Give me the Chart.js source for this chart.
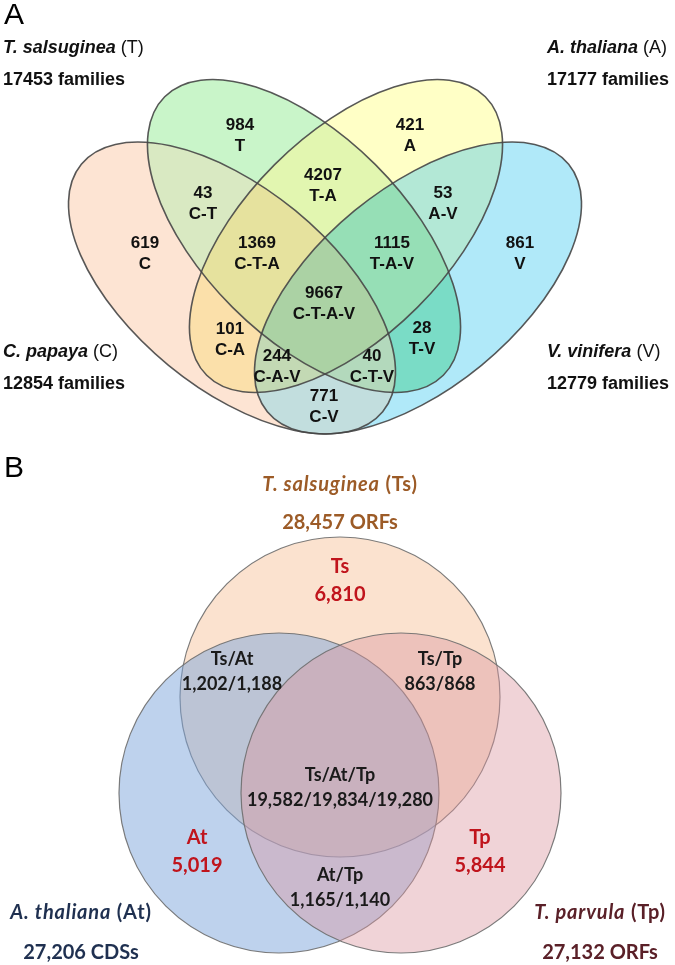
<!DOCTYPE html>
<html><head><meta charset="utf-8">
<script src="https://cdn.jsdelivr.net/npm/chart.js@4.4.1/dist/chart.umd.min.js"></script>
<style>html,body{margin:0;padding:0;background:#fff;}#wrap{width:675px;height:965px;}</style>
</head><body><div id="wrap"><canvas id="c" width="675" height="965"></canvas></div>
<script>
// ---------- DATA: panel A (gene families, 4-set Venn) ----------
const setNamesA = ['T. salsuginea', 'A. thaliana', 'C. papaya', 'V. vinifera'];
const setCodesA = ['T', 'A', 'C', 'V'];
const familiesA = [17453, 17177, 12854, 12779];
const regionCodesA = ['T', 'A', 'C-T', 'C', 'T-A', 'A-V', 'C-T-A', 'T-A-V', 'V', 'C-T-A-V', 'C-A', 'T-V', 'C-A-V', 'C-T-V', 'C-V'];
const regionCountsA = [984, 421, 43, 619, 4207, 53, 1369, 1115, 861, 9667, 101, 28, 244, 40, 771];

// ---------- DATA: panel B (ORFs, 3-set Venn) ----------
const setNamesB = ['T. salsuginea', 'A. thaliana', 'T. parvula'];
const setCodesB = ['Ts', 'At', 'Tp'];
const totalsB = [28457, 27206, 27132];
const unitsB = ['ORFs', 'CDSs', 'ORFs'];
const regionCodesB = ['Ts', 'At', 'Tp', 'Ts/At', 'Ts/Tp', 'At/Tp', 'Ts/At/Tp'];
const regionCountsB = [[6810], [5019], [5844], [1202, 1188], [863, 868], [1165, 1140], [19582, 19834, 19280]];

// ---------- LAYOUT & STYLE (data units of the chart's x/y scales) ----------
const ellipseLayoutA = {
  C: {cx: 232, cy: 288, a: 195, b: 100, rot: 39.4},
  T: {cx: 304, cy: 236, a: 197, b: 101, rot: 45},
  A: {cx: 346, cy: 236, a: 197, b: 101, rot: -45},
  V: {cx: 418, cy: 288, a: 195, b: 100, rot: -39.4}
};
const regionFillA = {
  'T': '#c9f5c9', 'A': '#ffffc6', 'C': '#fde4d3', 'V': '#b0e9f9',
  'C-T': '#d9e9c2', 'T-A': '#e2f6b0', 'A-V': '#b3e8d6', 'C-A': '#fbe0aa', 'T-V': '#7adcc6', 'C-V': '#c2dede',
  'C-T-A': '#e6e29e', 'T-A-V': '#96dfb6', 'C-A-V': '#c3d9b4', 'C-T-V': '#b3d9bc', 'C-T-A-V': '#abd2a4'
};
const regionPosA = [[240,124],[410,124],[203,192],[145,242],[323,174],[443,192],[257,242],[392,242],[520,242],[324,292],[230,328],[422,327],[277,355],[372,355],[324,395]];
const setLabelPosA = [[3,48,'left'],[547,48,'left'],[3,352,'left'],[547,352,'left']];

const circleLayoutB = [ {x: 340, y: 697, r: 160}, {x: 279, y: 793, r: 160}, {x: 401, y: 793, r: 160} ];
const circleFillB = ['rgba(245,185,140,0.42)', 'rgba(125,165,220,0.5)', 'rgba(220,150,160,0.42)'];
const regionPosB = [[340,567],[197,838],[480,838],[232,659],[440,659],[340,875],[340,775]];
const regionColorB = ['#c0141c','#c0141c','#c0141c','#1a1a1a','#1a1a1a','#1a1a1a','#1a1a1a'];
const setLabelPosB = [[340,485,523],[81,913,953],[600,913,953]];
const setColorB = ['#9c5b27', '#1f3050', '#5a2028'];

const fmt = n => n.toLocaleString('en-US');
const FA = '"Liberation Sans", Arial, sans-serif';
const FB = 'Lato, "Open Sans", sans-serif';

function drawRich(ctx, x, y, segs, align, spacing) {
  ctx.letterSpacing = (spacing || 0) + 'px';
  let total = 0;
  segs.forEach(s => { ctx.font = s.font; s.w = ctx.measureText(s.text).width; total += s.w; });
  let sx = align === 'center' ? x - total / 2 : (align === 'right' ? x - total : x);
  ctx.textAlign = 'left'; ctx.textBaseline = 'middle';
  segs.forEach(s => { ctx.font = s.font; ctx.fillStyle = s.color; ctx.fillText(s.text, sx, y); sx += s.w; });
  ctx.letterSpacing = '0px';
}

const vennPlugin = {
  id: 'venn',
  afterDatasetsDraw(chart) {
    const ctx = chart.ctx, xs = chart.scales.x, ys = chart.scales.y;
    const px = v => xs.getPixelForValue(v), py = v => ys.getPixelForValue(v);
    const len = v => xs.getPixelForValue(v) - xs.getPixelForValue(0);
    const W = chart.width, H = chart.height;
    const ellPath = (k, withRect) => {
      const e = ellipseLayoutA[k];
      const cx = px(e.cx), cy = py(e.cy), a = len(e.a), b = len(e.b), r = e.rot * Math.PI / 180;
      const p = new Path2D();
      if (withRect) p.rect(0, 0, W, H);
      p.moveTo(cx + a * Math.cos(r), cy + a * Math.sin(r));
      p.ellipse(cx, cy, a, b, r, 0, Math.PI * 2);
      p.closePath();
      return p;
    };
    ctx.save();
    // Panel A: fill each region (intersection of included sets, excluding the rest)
    regionCodesA.forEach(code => {
      const inc = code.split('-');
      ctx.save();
      inc.forEach(k => ctx.clip(ellPath(k, false)));
      setCodesA.filter(k => !inc.includes(k)).forEach(k => ctx.clip(ellPath(k, true), 'evenodd'));
      ctx.fillStyle = regionFillA[code];
      ctx.fillRect(0, 0, W, H);
      ctx.restore();
    });
    ['C', 'T', 'A', 'V'].forEach(k => {
      ctx.strokeStyle = 'rgba(70,70,70,0.9)'; ctx.lineWidth = 1.6; ctx.stroke(ellPath(k, false));
    });
    ctx.fillStyle = '#000'; ctx.font = '30px ' + FA; ctx.textAlign = 'left'; ctx.textBaseline = 'middle';
    ctx.fillText('A', px(4), py(16));
    ctx.fillText('B', px(4), py(469));
    setNamesA.forEach((n, i) => {
      const [x, y, al] = setLabelPosA[i];
      drawRich(ctx, px(x), py(y), [
        {text: n, font: 'italic bold 18px ' + FA, color: '#111'},
        {text: ' (' + setCodesA[i] + ')', font: '18px ' + FA, color: '#111'}], al);
      drawRich(ctx, px(x), py(y + 32), [{text: familiesA[i] + ' families', font: 'bold 18px ' + FA, color: '#111'}], al);
    });
    regionCodesA.forEach((c, i) => {
      const [x, y] = regionPosA[i];
      drawRich(ctx, px(x), py(y + 1), [{text: String(regionCountsA[i]), font: 'bold 17px ' + FA, color: '#111'}], 'center');
      drawRich(ctx, px(x), py(y + 22), [{text: c, font: 'bold 17px ' + FA, color: '#111'}], 'center');
    });
    setNamesB.forEach((n, i) => {
      const [x, y1, y2] = setLabelPosB[i];
      drawRich(ctx, px(x), py(y1), [
        {text: n, font: 'italic bold 20px ' + FB, color: setColorB[i]},
        {text: ' (' + setCodesB[i] + ')', font: 'bold 20px ' + FB, color: setColorB[i]}], 'center', 0.8);
      drawRich(ctx, px(x), py(y2), [{text: fmt(totalsB[i]) + ' ' + unitsB[i], font: 'bold 20px ' + FB, color: setColorB[i]}], 'center');
    });
    regionCodesB.forEach((c, i) => {
      const [x, y] = regionPosB[i];
      const big = regionColorB[i] !== '#1a1a1a';
      const f = (big ? 'bold 20px ' : 'bold 18px ') + FB;
      drawRich(ctx, px(x), py(y), [{text: c, font: f, color: regionColorB[i]}], 'center');
      drawRich(ctx, px(x), py(y + (big ? 28 : 25)), [{text: regionCountsB[i].map(fmt).join('/'), font: f, color: regionColorB[i]}], 'center');
    });
    ctx.restore();
  }
};

const ctx = document.getElementById('c').getContext('2d');
new Chart(ctx, {
  type: 'bubble',
  data: {
    datasets: setCodesB.map((code, i) => ({
      label: code,
      data: [circleLayoutB[i]],
      backgroundColor: circleFillB[i],
      borderColor: 'rgba(110,110,110,0.9)',
      borderWidth: 1.2,
      order: 3 - i
    }))
  },
  options: {
    responsive: false,
    animation: false,
    events: [],
    layout: {padding: 0, autoPadding: false},
    clip: false,
    scales: {
      x: {type: 'linear', min: 0, max: 675, display: false},
      y: {type: 'linear', min: 0, max: 965, reverse: true, display: false}
    },
    plugins: {legend: {display: false}, tooltip: {enabled: false}}
  },
  plugins: [vennPlugin]
});
</script>
</body></html>
